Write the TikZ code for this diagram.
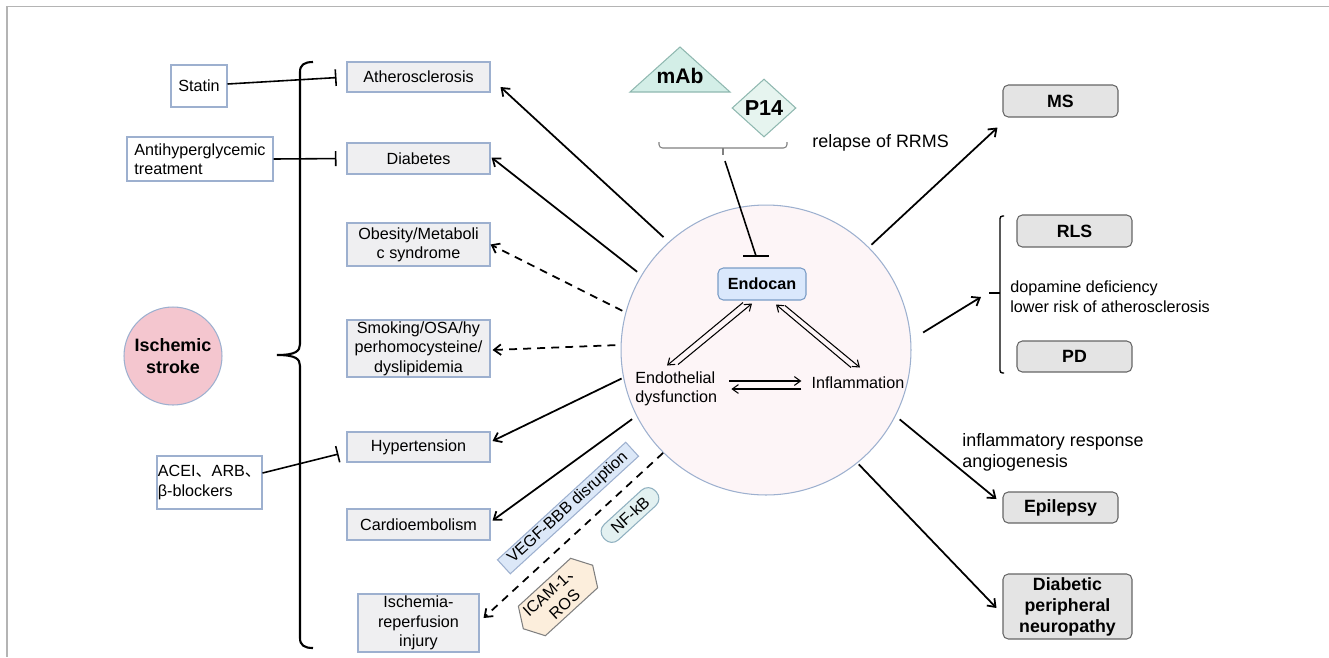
\documentclass[tikz,border=0pt]{standalone}
\usepackage{fontspec}
\setmainfont{Liberation Sans}
\newfontfamily\cjk{Noto Sans CJK SC}
\usetikzlibrary{arrows.meta,calc,shapes.geometric,shapes.symbols}
\definecolor{bd}{HTML}{9DB0CF}
\definecolor{gfill}{HTML}{EFEFF1}
\definecolor{pinkc}{HTML}{F4C6CF}
\definecolor{cfill}{HTML}{FDF5F7}
\definecolor{endof}{HTML}{DAE8FC}
\definecolor{endobd}{HTML}{7A9CC6}
\definecolor{rfill}{HTML}{E4E4E4}
\definecolor{rbd}{HTML}{666666}
\definecolor{tealbd}{HTML}{8FB8B0}
\definecolor{mabf}{HTML}{D3EEE7}
\definecolor{p14f}{HTML}{E6F4EF}
\definecolor{vegff}{HTML}{DCE8F8}
\definecolor{nff}{HTML}{E3F1F1}
\definecolor{nfbd}{HTML}{8FB0C0}
\definecolor{icf}{HTML}{FCEEDC}
\definecolor{framec}{HTML}{B4B4B4}
\begin{document}
\begin{tikzpicture}[x=0.02cm,y=-0.02cm,
  sz/.style 2 args={minimum width=#1*0.5690551pt, minimum height=#2*0.5690551pt},
  base/.style={font=\fontsize{9.2}{11}\selectfont, inner sep=0pt, align=center},
  gbox/.style={base, draw=bd, fill=gfill, line width=0.6pt},
  wbox/.style={base, draw=bd, fill=white, line width=0.6pt, align=left},
  rbox/.style={draw=rbd, fill=rfill, rounded corners=3pt, font=\bfseries\fontsize{10.1}{12}\selectfont, align=center, inner sep=0pt, line width=0.6pt},
  arr/.style={line width=1pt, -{Straight Barb[length=4pt,width=6pt]}},
  darr/.style={arr, dash pattern=on 4.5pt off 3.5pt},
  iarr/.style={line width=0.6pt, -{Straight Barb[length=3.5pt,width=5pt]}},
  inh/.style={line width=0.9pt},
  txt/.style={inner sep=0pt, align=left}
]
\useasboundingbox (0,0) rectangle (1329,657);
\draw[color=framec, line width=1pt] (1329,6.5) -- (7,6.5) -- (7,657);

% left treatment boxes
\node[wbox, sz={56}{42}] (stat) at (199,86) {Statin};
\node[wbox, sz={146}{44}] (anti) at (200,159) {Antihyperglycemic\\treatment};
\node[wbox, sz={105}{53}] (acei) at (209.5,482.5) {ACEI{\cjk 、}ARB{\cjk 、}\\β-blockers};
\node[circle, draw=bd, fill=pinkc, line width=0.6pt, minimum size=98*0.5690551pt, inner sep=0pt,
  font=\bfseries\fontsize{10.2}{12.5}\selectfont, align=center] (is) at (173,356) {Ischemic\\stroke};

% brace
\draw[line width=1.2pt] (313,62) .. controls (304,62) and (300,65) .. (300,72) -- (300,344)
  .. controls (300,351) and (296,355) .. (277,355)
  .. controls (296,355) and (300,359) .. (300,366) -- (300,638)
  .. controls (300,645) and (304,648) .. (313,648);

% middle boxes
\node[gbox, sz={143}{30}] (ath) at (418.5,77) {Atherosclerosis};
\node[gbox, sz={143}{31}] (dia) at (418.5,158.5) {Diabetes};
\node[gbox, sz={143}{43}] (obe) at (418.5,244.5) {Obesity/Metaboli\\c syndrome};
\node[gbox, sz={143}{57}] (smo) at (418.5,348.5) {Smoking/OSA/hy\\perhomocysteine/\\dyslipidemia};
\node[gbox, sz={143}{30}] (hyp) at (418.5,447) {Hypertension};
\node[gbox, sz={143}{31}] (car) at (418.5,524.5) {Cardioembolism};
\node[gbox, sz={121}{58}] (isc) at (418.5,623) {Ischemia-\\reperfusion\\injury};

% inhibition from treatments
\draw[inh, -{Bar[width=9.5pt]}, shorten >=10*0.569pt] ($(stat.east)+(0,-2)$) -- (ath.west);
\draw[inh, -{Bar[width=8.5pt]}, shorten >=10*0.569pt] (anti.east) -- (dia.west);
\draw[inh, -{Bar[width=9.5pt]}] ($(acei.east)+(0,-9.5)$) -- ($(hyp.west)+(-8,7)$);

% central circle
\node[circle, draw=bd, fill=cfill, line width=0.6pt, minimum size=290*0.5690551pt, inner sep=0pt] (C) at (766,350) {};
\node[base, draw=endobd, fill=endof, rounded corners=3pt, sz={88}{32}, font=\bfseries\fontsize{9.2}{11}\selectfont, line width=0.6pt] (endo) at (762,284) {Endocan};
\node[base, align=left, anchor=west] (endo2) at (635,389) {Endothelial\\dysfunction};
\node[base] (infl) at (858,383) {Inflammation};

\draw[iarr] ($(endo.south)+(-19,2)$) -- ($(endo.south)+(-95,65)$);
\draw[iarr] ($(endo.south)+(-84,64)$) -- ($(endo.south)+(-10,3)$);
\draw[iarr] ($(endo.south)+(23,5)$) -- ($(endo.south)+(98,67)$);
\draw[iarr] ($(endo.south)+(89,67)$) -- ($(endo.south)+(14,4)$);
\draw[iarr] ($(infl.west)+(-82,-2)$) -- ($(infl.west)+(-10,-2)$);
\draw[iarr] ($(infl.west)+(-10,6)$) -- ($(infl.west)+(-80,6)$);

% mAb, P14 and inhibition of Endocan
\draw[draw=tealbd, fill=mabf, line width=0.6pt] (630,92) -- (680,47) -- (730,92) -- cycle;
\node[inner sep=0pt, font=\bfseries\fontsize{12}{14}\selectfont] (mab) at (680,76) {mAb};
\node[diamond, draw=tealbd, fill=p14f, line width=0.6pt, sz={64}{58}, inner sep=0pt, font=\bfseries\fontsize{12.3}{14}\selectfont] (p14) at (764,108) {P14};
\draw[color=gray, line width=0.6pt, rounded corners=2pt] (659,142) -- (659,148) -- (787,148) -- (787,142);
\draw[color=gray, line width=0.6pt] (723,148) -- (723,155);
\coordinate (bt) at (725,161);
\coordinate (inhc) at (756,256);
\draw[inh] (bt) -- (inhc);
\draw[inh] ($(inhc)+(-13,0)$) -- ($(inhc)+(13,0)$);
\node[txt, anchor=west, font=\fontsize{10.2}{12}\selectfont] (rr) at (812,143) {relapse of RRMS};

% arrows to left boxes
\draw[arr, shorten <=4pt] (C.132) -- ($(ath.east)+(10,10)$);
\draw[arr, shorten <=3pt] (C.149) -- ($(dia.east)+(1,-1)$);
\draw[darr, shorten <=2pt] (C.165) -- (obe.east);
\draw[darr, shorten <=3pt] (C.178) -- ($(smo.east)+(2,1.5)$);
\draw[arr, shorten <=1pt] (C.191) -- ($(hyp.east)+(2,-6)$);
\draw[arr, shorten <=3pt] (C.207) -- ($(car.east)+(2,-4)$);
\draw[darr] (C.225) -- ($(isc.east)+(4,-5)$);

% labels on dashed line
\node[base, draw=bd, fill=vegff, line width=0.6pt, rotate=42.5, sz={174}{19}] (vegf) at (568,508) {VEGF-BBB disruption};
\node[base, draw=nfbd, fill=nff, line width=0.6pt, rotate=42.5, rounded corners=5.5pt, sz={70}{21}] (nfkb) at (630,515) {NF-kB};
\node[base, signal, signal to=west and east, signal pointer angle=120, draw=gray, fill=icf, line width=0.6pt, rotate=42.5, sz={88}{40}] (icam) at (558,597) {ICAM-1{\cjk 、}\\ROS};

% right side
\node[rbox, sz={115}{32}] (ms) at (1060.5,101) {MS};
\node[rbox, sz={115}{32}] (rls) at (1074.5,231) {RLS};
\node[rbox, sz={115}{31}] (pd) at (1074.5,356.5) {PD};
\node[rbox, sz={115}{31}] (epi) at (1060.5,507.5) {Epilepsy};
\node[rbox, sz={129}{65}] (dpn) at (1067.5,606.5) {Diabetic\\peripheral\\neuropathy};

\draw[line width=0.8pt, rounded corners=1.5pt] (1004,216) -- (1000,216) -- (1000,373) -- (1004,373);
\draw[line width=0.8pt] (1000,293) -- (989,293);
\coordinate (rb) at (981,297);
\node[txt, anchor=west, font=\fontsize{9.2}{11.3}\selectfont] (dop) at (1010,297) {dopamine deficiency\\lower risk of atherosclerosis};
\node[txt, anchor=west, font=\fontsize{10.2}{12}\selectfont] (infr) at (962,452) {inflammatory response\\angiogenesis};

\draw[arr, shorten <=2pt] (C.45.5) -- ($(ms.south west)+(-5,10)$);
\draw[arr, shorten <=8pt] (C.4.5) -- (rb);
\draw[arr, shorten <=3pt] (C.-27.4) -- ($(epi.west)+(-6,-8.5)$);
\draw[arr, shorten <=1pt] (C.-51.3) -- ($(dpn.west)+(-6,1.5)$);
\end{tikzpicture}
\end{document}
